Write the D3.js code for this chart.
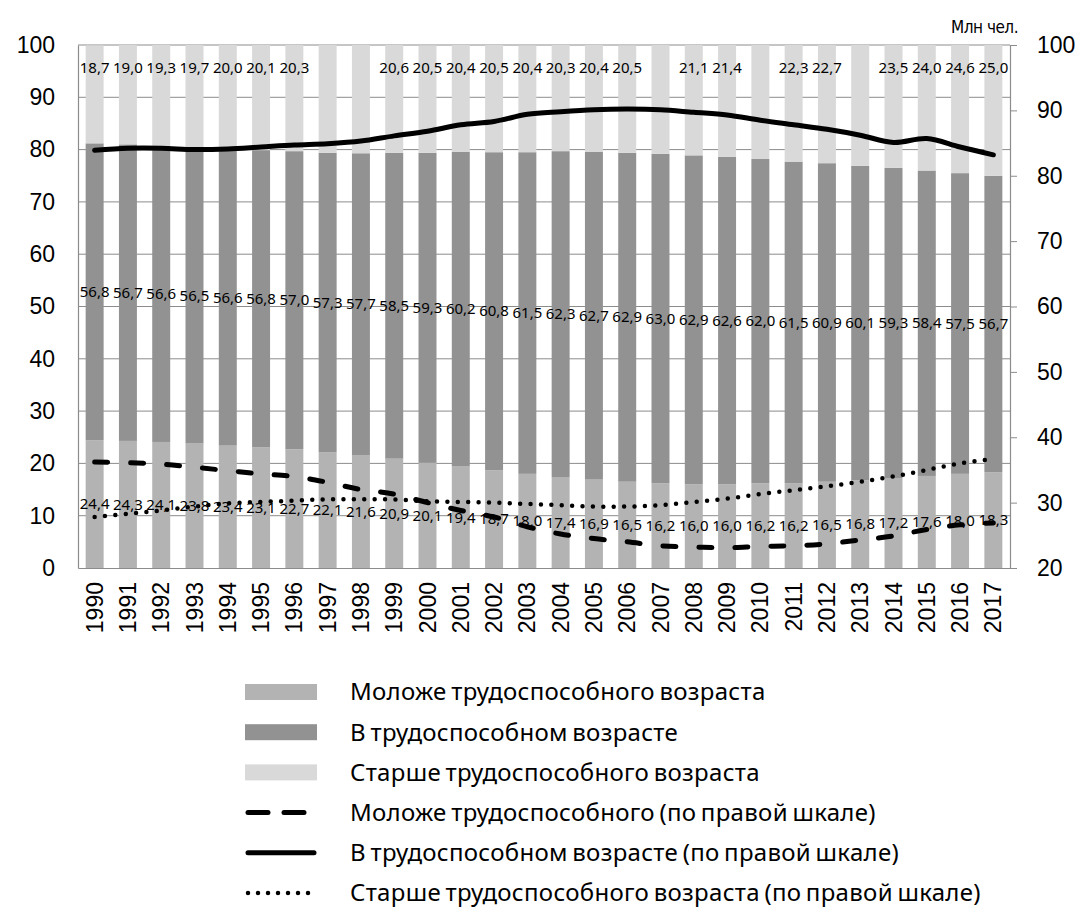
<!DOCTYPE html>
<html>
<head>
<meta charset="utf-8">
<script src="https://cdn.jsdelivr.net/npm/d3@7"></script>
<style>
  body { margin: 0; background: #fff; }
  svg text { font-family: "Noto Sans", sans-serif; }
</style>
</head>
<body>
<div id="chart"></div>
<script>
/* DATA */
const years = d3.range(1990, 2018).map(String);

// shares, % of total population (left scale)
const youngShare = [24.4, 24.3, 24.1, 23.8, 23.4, 23.1, 22.7, 22.1, 21.6, 20.9, 20.1, 19.4, 18.7, 18.0,
  17.4, 16.9, 16.5, 16.2, 16.0, 16.0, 16.2, 16.2, 16.5, 16.8, 17.2, 17.6, 18.0, 18.3];
const workShare = [56.8, 56.7, 56.6, 56.5, 56.6, 56.8, 57.0, 57.3, 57.7, 58.5, 59.3, 60.2, 60.8, 61.5,
  62.3, 62.7, 62.9, 63.0, 62.9, 62.6, 62.0, 61.5, 60.9, 60.1, 59.3, 58.4, 57.5, 56.7];
const oldShare = [18.7, 19.0, 19.3, 19.7, 20.0, 20.1, 20.3, 20.6, 20.7, 20.6, 20.5, 20.4, 20.5, 20.4,
  20.3, 20.4, 20.5, 20.8, 21.1, 21.4, 21.8, 22.3, 22.7, 23.1, 23.5, 24.0, 24.6, 25.0];
// years whose top label is not shown in the original
const oldLabelHidden = ["1997", "1998", "2007", "2010", "2013"];

// millions of people (right scale)
const youngMln = [36.2, 36.1, 35.9, 35.4, 34.9, 34.4, 34.0, 33.1, 32.0, 31.3, 30.0, 28.8, 27.8, 26.3,
  25.2, 24.5, 24.0, 23.4, 23.2, 23.1, 23.3, 23.4, 23.7, 24.3, 24.9, 25.9, 26.6, 26.9];
const workMln = [83.9, 84.2, 84.2, 84.0, 84.1, 84.4, 84.7, 84.9, 85.3, 86.1, 86.8, 87.8, 88.3, 89.4,
  89.8, 90.1, 90.2, 90.1, 89.7, 89.3, 88.5, 87.8, 87.1, 86.2, 85.1, 85.7, 84.4, 83.2];
const oldMln = [27.8, 28.3, 28.8, 29.4, 29.9, 30.1, 30.3, 30.5, 30.5, 30.5, 30.2, 30.1, 30.0, 29.8,
  29.6, 29.4, 29.4, 29.6, 30.1, 30.6, 31.3, 31.9, 32.5, 33.2, 34.0, 35.0, 36.0, 36.7];

const leftTicks = d3.range(0, 101, 10);
const rightTicks = d3.range(20, 101, 10);

const barKeys = ["young", "work", "old"];
const barNames = ["Моложе трудоспособного возраста", "В трудоспособном возрасте", "Старше трудоспособного возраста"];
const barColors = ["#b3b3b3", "#929292", "#d9d9d9"];
const lineNames = ["Моложе трудоспособного (по правой шкале)", "В трудоспособном возрасте (по правой шкале)",
  "Старше трудоспособного возраста (по правой шкале)"];

/* CONSTANTS */
const width = 1079, height = 909;
const margin = { top: 45, bottom: 341, left: 78, right: 69 };
const fmt = v => d3.format(".1f")(v).replace(".", ",");

const rows = years.map((y, i) => ({ year: y, young: youngShare[i], work: workShare[i], old: oldShare[i] }));

const svg = d3.select("#chart").append("svg")
  .attr("width", width)
  .attr("height", height);

const x = d3.scaleBand()
  .domain(years)
  .range([margin.left, width - margin.right])
  .paddingInner(0.46)
  .paddingOuter(0.23);

const yL = d3.scaleLinear().domain([0, 100]).range([height - margin.bottom, margin.top]);
const yR = d3.scaleLinear().domain([20, 100]).range([height - margin.bottom, margin.top]);

// gridlines
svg.append("g")
  .selectAll("line")
  .data(leftTicks.filter(d => d > 0))
  .join("line")
  .attr("x1", margin.left).attr("x2", width - margin.right)
  .attr("y1", d => yL(d)).attr("y2", d => yL(d))
  .attr("stroke", "#8c8c8c").attr("stroke-width", 1);

// stacked bars
const stack = d3.stack().keys(barKeys)(rows);
svg.append("g")
  .selectAll("g")
  .data(stack)
  .join("g")
  .attr("fill", (d, i) => barColors[i])
  .selectAll("rect")
  .data(d => d)
  .join("rect")
  .attr("x", d => x(d.data.year))
  .attr("width", x.bandwidth())
  .attr("y", d => yL(Math.min(d[1], 100)))
  .attr("height", d => yL(d[0]) - yL(Math.min(d[1], 100)));

// axes
const axisColor = "#8c8c8c";
const gL = svg.append("g")
  .attr("transform", `translate(${margin.left},0)`)
  .call(d3.axisLeft(yL).tickValues(leftTicks).tickSize(0).tickPadding(23));
const gR = svg.append("g")
  .attr("transform", `translate(${width - margin.right},0)`)
  .call(d3.axisRight(yR).tickValues(rightTicks).tickSize(7).tickPadding(20));
const gB = svg.append("g")
  .attr("transform", `translate(0,${height - margin.bottom})`)
  .call(d3.axisBottom(x).tickSize(0).tickPadding(0));

[gL, gR, gB].forEach(g => {
  g.select(".domain").attr("stroke", axisColor).attr("stroke-width", 1.2);
  g.selectAll(".tick line").attr("stroke", axisColor);
  g.selectAll("text").attr("fill", "#000").style("font-family", "'Liberation Sans', sans-serif").style("font-size", "23px");
});
gB.selectAll(".tick text")
  .attr("transform", "rotate(-90)")
  .attr("x", -14).attr("y", 0).attr("dy", "0.35em")
  .style("text-anchor", "end");

// data labels
const lab = svg.append("g").style("font-size", "15px").attr("fill", "#000").attr("text-anchor", "middle");
lab.selectAll("text.young")
  .data(rows).join("text").attr("class", "young")
  .attr("x", d => x(d.year) + x.bandwidth() / 2)
  .attr("y", d => yL(d.young / 2)).attr("dy", "0.35em")
  .text(d => fmt(d.young));
lab.selectAll("text.work")
  .data(rows).join("text").attr("class", "work")
  .attr("x", d => x(d.year) + x.bandwidth() / 2)
  .attr("y", d => yL(d.young + d.work / 2)).attr("dy", "0.35em")
  .text(d => fmt(d.work));
lab.selectAll("text.old")
  .data(rows.filter(d => !oldLabelHidden.includes(d.year))).join("text").attr("class", "old")
  .attr("x", d => x(d.year) + x.bandwidth() / 2)
  .attr("y", yL(100) + 23).attr("dy", "0.35em")
  .text(d => fmt(d.old));

// lines on right scale
const lineStyles = [
  { data: youngMln, dash: "13,23", width: 5, legendDash: "20,16" },
  { data: workMln, dash: null, width: 5, legendDash: null },
  { data: oldMln, dash: "0,10.4", width: 4.5, legendDash: "0,10" }
];
const line = d3.line()
  .x((d, i) => x(years[i]) + x.bandwidth() / 2)
  .y(d => yR(d))
  .curve(d3.curveCatmullRom);

svg.append("g")
  .selectAll("path")
  .data(lineStyles)
  .join("path")
  .attr("d", d => line(d.data))
  .attr("fill", "none")
  .attr("stroke", "#000")
  .attr("stroke-width", d => d.width)
  .attr("stroke-linecap", "round")
  .attr("stroke-dasharray", d => d.dash);

// unit caption
svg.append("text")
  .attr("x", 1018).attr("y", 33)
  .attr("text-anchor", "end")
  .style("font-family", "'Liberation Sans Narrow', 'DejaVu Sans Condensed', sans-serif")
  .style("font-size", "17px")
  .style("letter-spacing", "-0.5px")
  .text("Млн чел.");

// legend
const legend = svg.append("g").attr("transform", "translate(245,692)");
const rowH = 40.2;
const items = barNames.map((n, i) => ({ name: n, type: "bar", color: barColors[i] }))
  .concat(lineNames.map((n, i) => ({ name: n, type: "line", style: lineStyles[i] })));

const li = legend.selectAll("g")
  .data(items)
  .join("g")
  .attr("transform", (d, i) => `translate(0,${i * rowH})`);

li.filter(d => d.type === "bar")
  .append("rect")
  .attr("x", 0).attr("y", -8).attr("width", 72).attr("height", 16)
  .attr("fill", d => d.color);

li.filter(d => d.type === "line")
  .append("line")
  .attr("x1", 3).attr("x2", 69).attr("y1", 0).attr("y2", 0)
  .attr("stroke", "#000")
  .attr("stroke-width", d => d.style.width)
  .attr("stroke-linecap", "round")
  .attr("stroke-dasharray", d => d.style.legendDash);

li.append("text")
  .attr("x", 105).attr("y", 0).attr("dy", "0.35em")
  .style("font-size", "24px")
  .style("word-spacing", "-2px")
  .style("letter-spacing", "0.3px")
  .text(d => d.name);
</script>
</body>
</html>
